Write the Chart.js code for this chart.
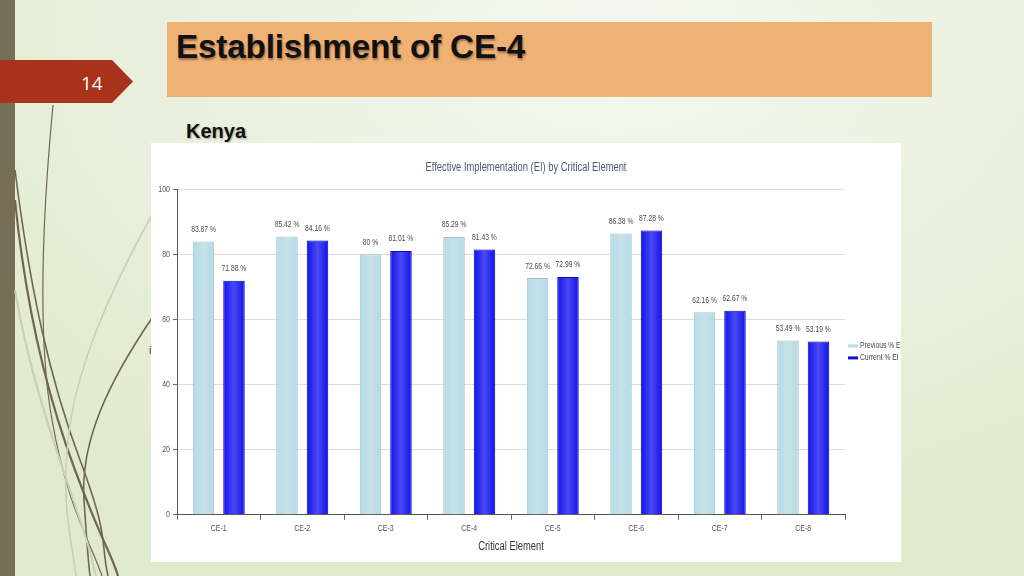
<!DOCTYPE html>
<html>
<head>
<meta charset="utf-8">
<script src="https://cdn.jsdelivr.net/npm/chart.js@4.4.1/dist/chart.umd.min.js"></script>
<style>
  html, body { margin: 0; padding: 0; }
  body {
    width: 1024px; height: 576px; overflow: hidden; position: relative;
    background: radial-gradient(ellipse 80% 90% at 60% 8%, #f5f7ef 0%, #eaf0de 55%, #e2eacd 100%);
    font-family: "Liberation Sans", Arial, sans-serif;
  }
  #leftbar { position: absolute; left: 0; top: 0; width: 15px; height: 576px; background: #776f55; }
  #curves { position: absolute; left: 0; top: 0; }
  #tab {
    position: absolute; left: 0; top: 60px; width: 133px; height: 43px; background: #a8321b;
    clip-path: polygon(0 0, 112px 0, 133px 21.5px, 112px 43px, 0 43px);
  }
  #tab span { position: absolute; left: 81px; top: 10px; color: #fff; font-size: 19px; font-family: "Open Sans", sans-serif; }
  #titlebar { position: absolute; left: 167px; top: 22px; width: 765px; height: 75px; background: #f0b174; }
  #titlebar h1 {
    margin: 0; position: absolute; left: 9px; top: 6px; font-size: 33.3px; font-weight: bold; color: #111;
    text-shadow: 1px 2px 2px rgba(0,0,0,0.35); letter-spacing: -0.2px;
  }
  #kenya { position: absolute; left: 186px; top: 120px; font-size: 20px; font-weight: bold; color: #111;
    text-shadow: 1px 1px 2px rgba(0,0,0,0.3); }
  #stray { position: absolute; left: 149px; top: 344px; font-size: 11px; color: #444; }
  #box { position: absolute; left: 151px; top: 143px; width: 750px; height: 419px; background: #fff; overflow: hidden; }
</style>
</head>
<body>
<div id="leftbar"></div>
<svg id="curves" width="200" height="576">
  <path d="M53 105 C 44 200, 36 330, 52 420 S 90 540, 102 576" stroke="#6f6850" stroke-width="1.2" fill="none"/>
  <path d="M15 200 C 25 300, 45 390, 75 470 S 110 550, 118 576" stroke="#6f6850" stroke-width="2.2" fill="none"/>
  <path d="M15 170 C 30 290, 50 380, 80 460 S 100 540, 108 576" stroke="#6f6850" stroke-width="1.6" fill="none"/>
  <path d="M152 318 C 110 380, 80 440, 84 500 S 88 560, 90 576" stroke="#6f6850" stroke-width="1.6" fill="none"/>
  <path d="M152 215 C 110 290, 75 370, 68 440 S 72 540, 76 576" stroke="#c9d0b8" stroke-width="1.6" fill="none"/>
  <path d="M15 290 C 30 380, 60 460, 80 520 S 90 560, 96 576" stroke="#c7cfb4" stroke-width="2" fill="none"/>
</svg>
<div id="tab"><span>14</span></div>
<div id="titlebar"><h1>Establishment of CE-4</h1></div>
<div id="kenya">Kenya</div>
<div id="stray">i</div>
<div id="box"><canvas id="ei" width="750" height="419"></canvas></div>

<script>
const categories = ['CE-1', 'CE-2', 'CE-3', 'CE-4', 'CE-5', 'CE-6', 'CE-7', 'CE-8']
const previousEI = [83.87, 85.42, 80, 85.29, 72.66, 86.38, 62.16, 53.49]
const currentEI = [71.88, 84.16, 81.01, 81.43, 72.99, 87.28, 62.67, 53.19]
const yTicks = [0, 20, 40, 60, 80, 100]

const fam = '"Liberation Sans", Arial, sans-serif'

// the chart picture in the slide is squeezed sideways, so all canvas text is drawn narrower
const squeeze = 0.75
const canvas = document.getElementById('ei')
const c2d = canvas.getContext('2d')
const origFill = c2d.fillText
const origMeasure = c2d.measureText
c2d.fillText = function (text, x, y) {
  this.save()
  this.translate(x, y)
  this.scale(squeeze, 1)
  origFill.call(this, text, 0, 0)
  this.restore()
}
c2d.measureText = function (text) {
  const m = origMeasure.call(this, text)
  return {
    width: m.width * squeeze,
    actualBoundingBoxAscent: m.actualBoundingBoxAscent,
    actualBoundingBoxDescent: m.actualBoundingBoxDescent,
    actualBoundingBoxLeft: m.actualBoundingBoxLeft * squeeze,
    actualBoundingBoxRight: m.actualBoundingBoxRight * squeeze,
  }
}

// light shine in the middle of each bar
const barShine = {
  id: 'barShine',
  afterDatasetsDraw(chart) {
    const ctx = chart.ctx
    chart.data.datasets.forEach((ds, i) => {
      chart.getDatasetMeta(i).data.forEach((bar) => {
        const w = bar.width - 2
        const left = bar.x - w / 2
        const g = ctx.createLinearGradient(left, 0, left + w, 0)
        g.addColorStop(0, 'rgba(255,255,255,0)')
        g.addColorStop(0.5, 'rgba(255,255,255,0.22)')
        g.addColorStop(1, 'rgba(255,255,255,0)')
        ctx.fillStyle = g
        ctx.fillRect(left, bar.y + 1, w, bar.base - bar.y - 1)
      })
    })
  },
}

// value labels above each bar, e.g. "83.87 %"
const valueLabels = {
  id: 'valueLabels',
  afterDatasetsDraw(chart) {
    const ctx = chart.ctx
    ctx.save()
    ctx.font = '9px ' + fam
    ctx.fillStyle = '#4a4a4a'
    ctx.textAlign = 'center'
    ctx.textBaseline = 'middle'
    chart.data.datasets.forEach((ds, i) => {
      chart.getDatasetMeta(i).data.forEach((bar, j) => {
        ctx.fillText(ds.data[j] + ' %', bar.x, bar.y - 12)
      })
    })
    ctx.restore()
  },
}

// legend on the right, cut off by the picture edge like in the slide
const sideLegend = {
  id: 'sideLegend',
  afterDraw(chart) {
    const ctx = chart.ctx
    const area = chart.chartArea
    const x0 = area.right + 3
    const mid = (area.top + area.bottom) / 2
    ctx.save()
    ctx.font = '9px ' + fam
    ctx.textBaseline = 'middle'
    ctx.textAlign = 'left'
    chart.data.datasets.forEach((ds, i) => {
      const y = mid - 6 + i * 12
      ctx.fillStyle = ds.legendColor
      ctx.fillRect(x0, y - 1.5, 10, 3)
      ctx.fillStyle = '#444'
      ctx.fillText(ds.label, x0 + 12, y)
    })
    ctx.restore()
  },
}

const eiData = {
  labels: categories,
  datasets: [
    {
      label: 'Previous % EI',
      data: previousEI,
      backgroundColor: '#b7dbe5',
      borderColor: '#9cc4cf',
      borderWidth: 1,
      legendColor: '#b9dce6',
    },
    {
      label: 'Current % EI',
      data: currentEI,
      backgroundColor: '#1717ee',
      borderColor: '#0000c0',
      borderWidth: 1,
      legendColor: '#1010e0',
    },
  ],
}

const configEI = {
  type: 'bar',
  data: eiData,
  plugins: [barShine, valueLabels, sideLegend],
  options: {
    responsive: false,
    animation: false,
    categoryPercentage: 0.73,
    barPercentage: 0.705,
    layout: { padding: 0 },
    plugins: {
      legend: { display: false },
      tooltip: { enabled: false },
      title: {
        display: true,
        text: 'Effective Implementation (EI) by Critical Element',
        color: '#4a5878',
        font: { family: fam, size: 12.5, weight: 'normal' },
        padding: { top: 17, bottom: 14 },
      },
    },
    scales: {
      x: {
        grid: { offset: true, drawOnChartArea: false, tickLength: 5, tickColor: '#666' },
        border: { color: '#555' },
        ticks: { color: '#555', font: { family: fam, size: 9.3 }, padding: 3 },
        title: {
          display: true,
          text: 'Critical Element',
          color: '#333',
          font: { family: fam, size: 12.5 },
          padding: { top: 2, bottom: 8 },
        },
      },
      y: {
        min: 0,
        max: 100,
        afterFit: (axis) => { axis.width = 26 },
        afterBuildTicks: (axis) => { axis.ticks = yTicks.map((v) => ({ value: v })) },
        grid: { color: '#dcdcdc', tickLength: 4, tickColor: '#666' },
        border: { color: '#555' },
        ticks: { color: '#555', font: { family: fam, size: 9.3 }, padding: 3 },
      },
      // empty right-hand strip that holds the legend
      legendSpace: {
        type: 'linear',
        position: 'right',
        afterFit: (axis) => { axis.width = 56 },
        grid: { display: false },
        border: { display: false },
        ticks: { display: false },
      },
    },
  },
}

const eiChart = new Chart(canvas, configEI)
</script>
</body>
</html>
